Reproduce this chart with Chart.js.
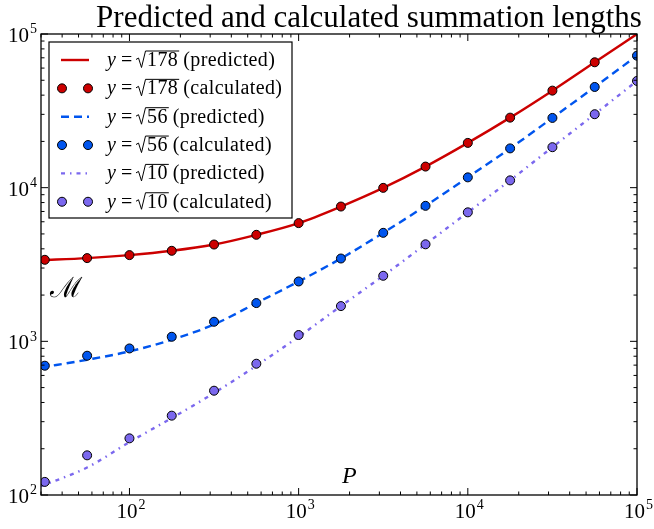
<!DOCTYPE html>
<html>
<head>
<meta charset="utf-8">
<script src="https://cdn.jsdelivr.net/npm/chart.js@4.4.0/dist/chart.umd.min.js"></script>
<style>
  html, body { margin: 0; padding: 0; background: #fff; }
</style>
</head>
<body>
<canvas id="myChart" width="654" height="529"></canvas>
<script>
// x positions of the calculated points and of the predicted curve samples
var calcX = [31.6, 56.2, 100, 177.8, 316.2, 562.3, 1000, 1778, 3162, 5623, 10000, 17783, 31623, 56234, 100000];
var predX = [30, 56.2, 100, 177.8, 316.2, 562.3, 1000, 1778, 3162, 5623, 10000, 17783, 31623, 56234, 100000];

// sqrt(178)
var redPred = [3375, 3480, 3640, 3883, 4266, 4933, 5879, 7537, 9970, 13716, 19560, 28560, 42800, 65460, 100000];
var redCalc = [3393, 3480, 3640, 3883, 4266, 4933, 5879, 7537, 9970, 13716, 19560, 28560, 42800, 65460];
// sqrt(56)
var bluePred = [676, 759, 860, 1024, 1288, 1774, 2452, 3459, 5082, 7617, 11670, 18010, 28430, 45220, 72260];
var blueCalc = [694, 806, 899, 1071, 1341, 1774, 2452, 3459, 5082, 7617, 11670, 18010, 28430, 45220, 72260];
// sqrt(10)
var purplePred = [114, 151, 221, 317, 461, 694, 1071, 1696, 2670, 4280, 6909, 11155, 18340, 30060, 49490];
var purpleCalc = [121.7, 181.2, 233.7, 328.3, 477.2, 715, 1099, 1696, 2670, 4280, 6909, 11155, 18340, 30060, 49490];

var seriesNums = ['178', '56', '10'];
var xMajor = [2, 3, 4, 5];   // exponents of labelled x ticks
var yMajor = [2, 3, 4, 5];
var titleText = 'Predicted and calculated summation lengths';

var RED = '#cc0000', BLUE = '#0055ee', PURPLE = '#7b68ee';
var SERIF = '"Liberation Serif", "DejaVu Serif", serif';

function pts(xs, ys) {
    return ys.map(function (v, i) { return { x: xs[i], y: v }; });
}

function lineSet(label, xs, ys, color, dash) {
    return {
        label: label, data: pts(xs, ys), showLine: true, pointRadius: 0,
        borderColor: color, borderWidth: 2.4, borderDash: dash,
        cubicInterpolationMode: 'monotone', clip: 0, order: 2
    };
}
function pointSet(label, xs, ys, color) {
    return {
        label: label, data: pts(xs, ys), showLine: false, pointRadius: 4.5,
        backgroundColor: color, pointBorderColor: '#000', pointBorderWidth: 1,
        clip: 0, order: 1
    };
}

var datasets = [
    lineSet('predicted', predX, redPred, RED, []),
    pointSet('calculated', calcX, redCalc, RED),
    lineSet('predicted', predX, bluePred, BLUE, [8, 5]),
    pointSet('calculated', calcX, blueCalc, BLUE),
    lineSet('predicted', predX, purplePred, PURPLE, [4, 5, 1.5, 5]),
    pointSet('calculated', calcX, purpleCalc, PURPLE)
];

function drawPow10(ctx, exp, x, y, align, size) {
    ctx.font = size + 'px ' + SERIF;
    var w1 = ctx.measureText('10').width;
    var sup = Math.round(size * 0.68);
    ctx.font = sup + 'px ' + SERIF;
    var w2 = ctx.measureText(String(exp)).width;
    var left = align === 'center' ? x - (w1 + w2) / 2 : (align === 'right' ? x - w1 - w2 : x);
    ctx.textAlign = 'left';
    ctx.textBaseline = 'alphabetic';
    ctx.font = size + 'px ' + SERIF;
    ctx.fillText('10', left, y);
    ctx.font = sup + 'px ' + SERIF;
    ctx.fillText(String(exp), left + w1 + 1, y - size * 0.42);
}

var decor = {
    id: 'decor',
    afterDraw: function (chart) {
        var ctx = chart.ctx, a = chart.chartArea;
        var xs = chart.scales.x, ys = chart.scales.y;
        ctx.save();
        ctx.fillStyle = '#000';
        ctx.strokeStyle = '#000';

        // frame
        ctx.lineWidth = 1.3;
        ctx.setLineDash([]);
        ctx.strokeRect(a.left, a.top, a.right - a.left, a.bottom - a.top);

        // inward ticks on all four sides
        ctx.lineWidth = 1;
        ctx.beginPath();
        for (var e = 1; e <= 5; e++) {
            for (var k = 1; k <= 9; k++) {
                var v = k * Math.pow(10, e);
                var len = k === 1 ? 7 : 3.5;
                if (v >= xs.min && v <= xs.max) {
                    var px = xs.getPixelForValue(v);
                    ctx.moveTo(px, a.bottom); ctx.lineTo(px, a.bottom - len);
                    ctx.moveTo(px, a.top); ctx.lineTo(px, a.top + len);
                }
                if (v >= ys.min && v <= ys.max) {
                    var py = ys.getPixelForValue(v);
                    ctx.moveTo(a.left, py); ctx.lineTo(a.left + len, py);
                    ctx.moveTo(a.right, py); ctx.lineTo(a.right - len, py);
                }
            }
        }
        ctx.stroke();

        // tick labels
        xMajor.forEach(function (p) {
            drawPow10(ctx, p, xs.getPixelForValue(Math.pow(10, p)) + 1, a.bottom + 23, 'center', 21);
        });
        yMajor.forEach(function (p) {
            drawPow10(ctx, p, a.left - 5, ys.getPixelForValue(Math.pow(10, p)) + 8, 'right', 21);
        });

        // title
        ctx.font = '31px ' + SERIF;
        ctx.textAlign = 'center';
        ctx.textBaseline = 'alphabetic';
        ctx.fillText(titleText, (a.left + a.right) / 2 + 30, 27);

        // annotations
        ctx.font = '28px ' + SERIF;
        ctx.textAlign = 'left';
        ctx.fillText('\u2133', 50, 297);
        ctx.font = 'italic 24px ' + SERIF;
        ctx.fillText('P', 342, 483);

        // legend
        var bx = 49, by = 42, bw = 243, bh = 176;
        ctx.fillStyle = '#fff';
        ctx.fillRect(bx, by, bw, bh);
        ctx.lineWidth = 1.2;
        ctx.strokeStyle = '#000';
        ctx.strokeRect(bx, by, bw, bh);
        var metas = chart.data.datasets;
        metas.forEach(function (ds, i) {
            var yc = 60 + i * 28.35;
            if (ds.showLine) {
                ctx.save();
                ctx.strokeStyle = ds.borderColor;
                ctx.lineWidth = ds.borderWidth;
                ctx.setLineDash(ds.borderDash);
                ctx.beginPath();
                ctx.moveTo(61, yc); ctx.lineTo(89, yc);
                ctx.stroke();
                ctx.restore();
            } else {
                [62, 88].forEach(function (mx) {
                    ctx.beginPath();
                    ctx.arc(mx, yc, 4.5, 0, Math.PI * 2);
                    ctx.fillStyle = ds.backgroundColor;
                    ctx.fill();
                    ctx.lineWidth = 1;
                    ctx.strokeStyle = '#000';
                    ctx.stroke();
                });
            }
            var base = yc + 6, f = 20;
            ctx.save();
            ctx.fillStyle = '#000';
            ctx.strokeStyle = '#000';
            ctx.textAlign = 'left';
            ctx.letterSpacing = '0.4px';
            ctx.font = 'italic ' + f + 'px ' + SERIF;
            ctx.fillText('y', 107, base);
            ctx.font = f + 'px ' + SERIF;
            ctx.fillText('=', 121, base);
            var num = seriesNums[Math.floor(i / 2)];
            var dx = 147;
            var nw = ctx.measureText(num).width;
            // radical sign
            ctx.lineWidth = 1;
            ctx.beginPath();
            ctx.moveTo(136, base - 6.5);
            ctx.lineTo(138.5, base - 8);
            ctx.lineTo(141.5, base + 1.5);
            ctx.lineTo(145.5, base - 15);
            ctx.lineTo(dx + nw + 1, base - 15);
            ctx.stroke();
            ctx.fillText(num, dx, base);
            ctx.fillText('(' + ds.label + ')', dx + nw + 5, base);
            ctx.restore();
        });
        ctx.restore();
    }
};

new Chart(document.getElementById('myChart').getContext('2d'), {
    type: 'scatter',
    data: { datasets: datasets },
    options: {
        responsive: false,
        animation: false,
        layout: { padding: { left: 41, right: 17, top: 34, bottom: 34 } },
        plugins: { legend: { display: false }, title: { display: false }, tooltip: { enabled: false } },
        scales: {
            x: { type: 'logarithmic', min: 30, max: 100000, display: false },
            y: { type: 'logarithmic', min: 100, max: 100000, display: false }
        }
    },
    plugins: [decor]
});
</script>
</body>
</html>
